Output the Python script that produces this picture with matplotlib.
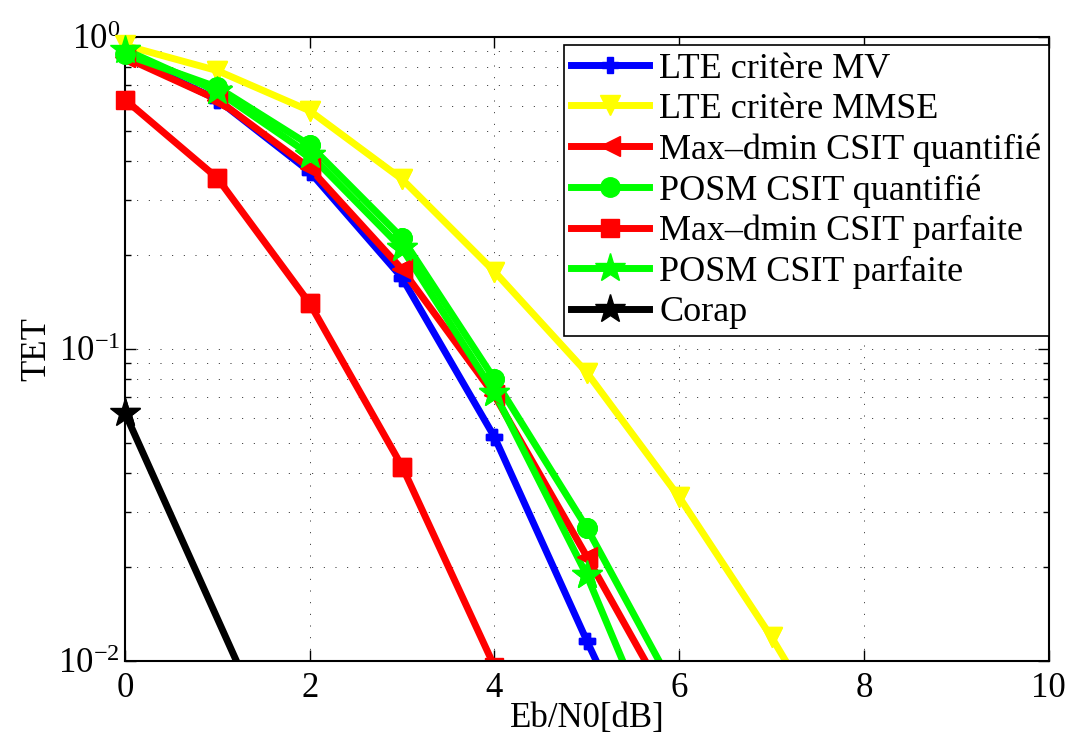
import numpy as np
import matplotlib
matplotlib.use("Agg")
import matplotlib.pyplot as plt
from matplotlib.ticker import LogLocator, LogFormatterMathtext, MultipleLocator

plt.rcParams["font.family"] = ["Liberation Serif", "DejaVu Serif"]
plt.rcParams["mathtext.fontset"] = "stix"

# Eb/N0 [dB]
snr = [0, 1, 2, 3, 4, 5, 6]
snr_mmse = [0, 1, 2, 3, 4, 5, 6, 7, 8]
snr_corap = [0, 2]

# TET values
lte_mv = [0.875, 0.63, 0.37, 0.169, 0.0522, 0.0116, 0.0027]
lte_mmse = [0.94, 0.78, 0.58, 0.35, 0.177, 0.084, 0.0335, 0.0119, 0.0038]
maxd_quant = [0.86, 0.63, 0.38, 0.18, 0.071, 0.0216, 0.0064]
posm_quant = [0.88, 0.69, 0.45, 0.227, 0.080, 0.0267, 0.0076]
maxd_parf = [0.63, 0.353, 0.14, 0.042, 0.0096]
posm_parf = [0.91, 0.67, 0.42, 0.21, 0.0724, 0.0188, 0.0037]
corap = [0.0624, 0.003]

series = [
    (snr, lte_mv, "#0000ff", "P", 11, "LTE critère MV"),
    (snr_mmse, lte_mmse, "#ffff00", "v", 15, "LTE critère MMSE"),
    (snr, maxd_quant, "#ff0000", "<", 15, "Max\u2013dmin CSIT quantifié"),
    (snr, posm_quant, "#00ff00", "o", 14, "POSM CSIT quantifié"),
    (snr[:5], maxd_parf, "#ff0000", "s", 13, "Max\u2013dmin CSIT parfaite"),
    (snr, posm_parf, "#00ff00", "*", 22, "POSM CSIT parfaite"),
    (snr_corap, corap, "#000000", "*", 22, "Corap"),
]

fig = plt.figure(figsize=(10.68, 7.35), dpi=100)
ax = fig.add_axes([0.117, 0.1007, 0.865, 0.849])

for x, y, c, m, ms, lab in series:
    ax.plot(x, y, color=c, lw=5, marker=m, ms=ms, mec=c, mfc=c, label=lab)
    x = np.array(x)
    y = np.array(y)
    keep = y >= 0.01
    # markers on the edge are not cut (like MATLAB)
    ax.plot(x[keep], y[keep], ls="none", marker=m, ms=ms, mec=c, mfc=c,
            clip_on=False, zorder=3)

ax.set_yscale("log")
ax.set_xlim(0, 10)
ax.set_ylim(0.01, 1)
ax.xaxis.set_major_locator(MultipleLocator(2))
ax.yaxis.set_major_locator(LogLocator(base=10))
ax.yaxis.set_minor_locator(LogLocator(base=10, subs=np.arange(2, 10)))
ax.yaxis.set_major_formatter(LogFormatterMathtext())
ax.yaxis.set_minor_formatter(plt.NullFormatter())

ax.grid(True, which="major", color="#222222", lw=0.7, ls=(0, (1, 11)))
ax.grid(True, which="minor", axis="y", color="#222222", lw=0.7, ls=(0, (1, 11)))

ax.tick_params(which="both", direction="in", top=True, right=True, labelsize=25)
ax.tick_params(which="major", length=8, width=1)
ax.tick_params(which="minor", length=4, width=1)
ax.tick_params(axis="x", pad=8)
for s in ax.spines.values():
    s.set_linewidth(1.5)

ax.set_xlabel("Eb/N0[dB]", fontsize=25, labelpad=-2)
ax.set_ylabel("TET", fontsize=25, labelpad=4)

leg = ax.legend(loc="upper right", bbox_to_anchor=(1.0, 0.987), borderaxespad=0,
                fontsize=26, fancybox=False, framealpha=1, edgecolor="black",
                handlelength=2.15, handletextpad=0.3, labelspacing=0.2,
                borderpad=0.2, markerscale=1.0)
leg.get_frame().set_linewidth(1.2)

fig.savefig("out.png", dpi=100)
